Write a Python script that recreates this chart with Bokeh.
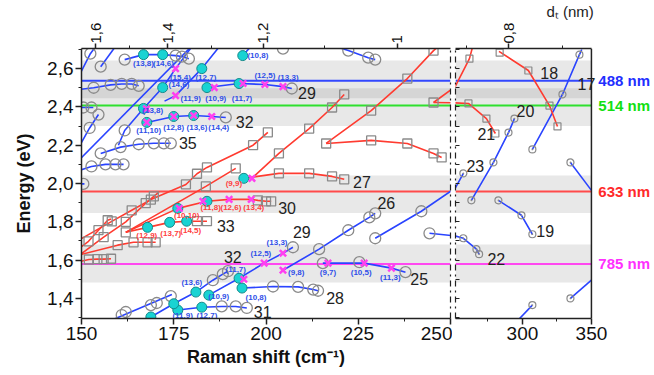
import math
from bokeh.plotting import figure
from bokeh.models import Range1d, LinearAxis, FixedTicker, BoxAnnotation, Span
from bokeh.layouts import row
from bokeh.embed import file_html
from bokeh.resources import INLINE
from bokeh.core.properties import value

FONT = "Liberation Sans"

# ---------------- axes / ticks ----------------
E_MIN, E_MAX = 1.295, 2.705
W_BREAK_LEFT = 250
W_RIGHT_START, W_RIGHT_END = 251.5, 350
x_ticks_left = [150, 175, 200, 225, 250]
x_minor_left = [162.5, 187.5, 212.5, 237.5]
x_ticks_right = [300, 350]
x_minor_right = [275, 325]
y_ticks = [1.4, 1.6, 1.8, 2.0, 2.2, 2.4, 2.6]
y_tick_labels = ["1,4", "1,6", "1,8", "2,0", "2,2", "2,4", "2,6"]
y_minor = [1.3, 1.5, 1.7, 1.9, 2.1, 2.3, 2.5, 2.7]
dt_ticks = [1.6, 1.4, 1.2, 1.0, 0.8]
dt_labels = ["1,6", "1,4", "1,2", "1", "0,8"]
dt_minor = [1.5, 1.3, 1.1, 0.9, 0.7]

# ---------------- laser lines and resonance windows ----------------
laser_names = ["488 nm", "514 nm", "633 nm", "785 nm"]
laser_E = [2.537, 2.407, 1.958, 1.580]
laser_line_colors = ["#3348ff", "#2fe02f", "#ff4a4a", "#ff48f0"]
laser_text_colors = ["#1f2fff", "#12e012", "#ff2a2a", "#ff30ff"]
band_lo = [2.445, 2.300, 1.846, 1.483]
band_hi = [2.642, 2.497, 2.042, 1.681]

# ---------------- family curves (Raman shift cm-1, energy eV) ----------------
blue_lines = [
    ([148.5, 152.4, 155.5], [2.53, 2.678, 2.76]),
    ([155.2, 160.5], [2.61, 2.75]),
    ([161.7, 166.8, 172.0, 175.5, 177.2, 179.1], [2.647, 2.673, 2.673, 2.668, 2.663, 2.652]),
    ([149.0, 153.3, 157.9, 160.9, 163.6, 165.5], [2.49, 2.50, 2.515, 2.52, 2.52, 2.51]),
    ([149.5, 153.2], [2.397, 2.397]),
    ([149.0, 152.2, 154.6], [2.18, 2.29, 2.36]),
    ([155.2, 160.6, 165.5, 169.6, 172.3, 174.2], [2.157, 2.19, 2.205, 2.21, 2.21, 2.21]),
    ([149.0, 152.7, 156.5, 159.2, 161.4], [2.066, 2.089, 2.10, 2.10, 2.10]),
    ([149.5, 150.8], [1.998, 1.998]),
    ([160.0, 161.7, 166.8, 172.0, 175.5, 180.5], [2.20, 2.277, 2.392, 2.501, 2.60, 2.73]),
    ([148.0, 180.0], [2.096, 2.72]),
    ([172.5, 175.5, 182.6, 188.0], [2.43, 2.459, 2.60, 2.73]),
    ([193.7, 197.5], [2.668, 2.75]),
    ([184.0, 192.7, 199.7, 204.6, 207.0], [2.501, 2.522, 2.517, 2.506, 2.496]),
    ([167.7, 175.0, 180.4, 185.3, 189.1], [2.319, 2.35, 2.355, 2.35, 2.345]),
    ([215.0, 222.3, 227.7, 229.6], [2.74, 2.694, 2.657, 2.647]),
    ([193.5, 201.9, 208.7, 212.8, 214.1], [1.454, 1.462, 1.46, 1.446, 1.44]),
    ([176.1, 182.6, 188.0, 191.8, 194.8], [1.339, 1.354, 1.358, 1.358, 1.35]),
    ([165.0, 168.8, 175.0, 181.0, 185.6, 188.3, 189.7], [1.27, 1.303, 1.372, 1.433, 1.495, 1.527, 1.542]),
    ([184.5, 192.7, 199.5, 204.6, 207.3], [1.417, 1.505, 1.584, 1.636, 1.667]),
    ([158.0, 174.5], [1.285, 1.42]),
    ([215.4, 226.6, 234.0, 237.8], [1.584, 1.584, 1.558, 1.537]),
    ([204.6, 214.4, 222.3, 228.0, 229.6], [1.547, 1.657, 1.756, 1.823, 1.844]),
    ([229.6, 242.1, 257.2], [1.714, 1.855, 2.053]),
    ([244.3, 257.2, 266.7, 268.6], [1.74, 1.714, 1.657, 1.631]),
    ([263.0, 279.0, 289.9, 294.2], [1.912, 2.11, 2.266, 2.339]),
    ([307.2, 329.0, 341.3, 343.0], [2.178, 2.465, 2.673, 2.70]),
    ([282.6, 299.3, 307.2], [1.912, 1.834, 1.735]),
    ([334.8, 350.0], [2.11, 1.964]),
    ([334.8, 350.0], [1.40, 1.495]),
    ([296.0, 307.2], [1.28, 1.365]),
]

red_lines = [
    ([162.0, 167.9, 173.9, 178.5, 181.3, 184.0], [1.745, 1.771, 1.797, 1.803, 1.803, 1.803]),
    ([162.0, 176.1], [1.745, 1.870]),
    ([176.1, 184.0, 190.0, 196.0, 197.8, 200.0, 201.4], [1.870, 1.907, 1.917, 1.917, 1.912, 1.907, 1.907]),
    ([162.0, 183.7, 191.8], [1.745, 1.985, 2.079]),
    ([148.0, 158.2, 163.6, 168.8, 178.3, 181.3, 184.0, 196.5, 200.5], [1.69, 1.802, 1.86, 1.916, 1.995, 2.051, 2.084, 2.20, 2.267]),
    ([196.2, 203.5, 211.7, 217.9, 221.2], [2.027, 2.157, 2.287, 2.397, 2.465]),
    ([194.0, 203.5, 211.7, 217.9, 221.2], [2.027, 2.053, 2.053, 2.037, 2.022]),
    ([216.3, 228.5, 238.3, 245.4, 247.0], [2.209, 2.381, 2.548, 2.694, 2.72]),
    ([216.3, 228.5, 238.3, 245.4, 247.6], [2.209, 2.225, 2.209, 2.157, 2.136]),
    ([245.4, 260.9, 273.9, 280.4], [2.423, 2.418, 2.339, 2.261]),
    ([245.4, 261.6, 264.5], [2.423, 2.652, 2.73]),
    ([283.0, 304.3, 319.6, 325.4], [2.69, 2.59, 2.407, 2.298]),
    ([149.0, 151.9, 154.6, 157.1, 158.0], [1.655, 1.698, 1.756, 1.808, 1.815]),
    ([149.0, 156.0, 162.0, 167.4, 169.6, 171.0], [1.62, 1.72, 1.80, 1.897, 1.933, 1.955]),
    ([149.0, 152.0, 154.3, 156.0, 158.0], [1.59, 1.603, 1.605, 1.605, 1.607]),
    ([149.0, 159.8, 164.1, 167.9, 170.1], [1.625, 1.678, 1.693, 1.693, 1.693]),
]

# ---------------- experimental points ----------------
open_circles = [
    (152.4, 2.678), (155.2, 2.61), (161.7, 2.647), (175.5, 2.668), (177.2, 2.663), (179.1, 2.652),
    (153.3, 2.50), (157.9, 2.515), (160.9, 2.52), (163.6, 2.52), (165.5, 2.51),
    (150.5, 2.397), (152.7, 2.397), (152.2, 2.29), (154.6, 2.36),
    (155.2, 2.157), (160.6, 2.19), (165.5, 2.205), (169.6, 2.21), (172.3, 2.21), (174.2, 2.21),
    (152.7, 2.089), (156.5, 2.10), (159.2, 2.10), (161.4, 2.10), (150.5, 1.998), (161.7, 2.277),
    (207.0, 2.496), (189.1, 2.345), (204.6, 2.704), (222.3, 2.694), (227.7, 2.657), (229.6, 2.647),
    (201.9, 1.462), (208.7, 1.46), (212.8, 1.446), (214.1, 1.44),
    (188.0, 1.358), (191.8, 1.358), (194.8, 1.35),
    (185.6, 1.495), (188.3, 1.527), (189.7, 1.542), (207.3, 1.667),
    (160.9, 1.313), (162.0, 1.329), (168.8, 1.365), (170.4, 1.376), (174.2, 1.412),
    (215.4, 1.584), (225.3, 1.589), (237.8, 1.537),
    (214.4, 1.657), (222.3, 1.756), (228.0, 1.823), (229.6, 1.844),
    (229.6, 1.714), (242.1, 1.855), (244.3, 1.74),
]
open_circles_right = [
    (257.2, 2.053), (263.0, 1.912), (279.0, 2.11), (289.9, 2.266), (294.2, 2.339),
    (307.2, 2.178), (329.0, 2.465), (341.3, 2.673), (282.6, 1.912), (299.3, 1.834), (307.2, 1.735),
    (334.8, 2.11), (257.2, 1.714), (266.7, 1.657), (268.6, 1.631), (334.8, 1.40), (307.2, 1.365),
]
open_squares = [
    (151.9, 1.698), (154.6, 1.756), (157.1, 1.808), (156.0, 1.72), (162.0, 1.80), (167.4, 1.897), (169.6, 1.933),
    (152.0, 1.603), (154.3, 1.605), (156.0, 1.605), (158.0, 1.607),
    (159.8, 1.678), (164.1, 1.693), (167.9, 1.693), (170.1, 1.693), (162.0, 1.745),
    (181.3, 1.803), (184.0, 1.803), (197.8, 1.912), (200.0, 1.907), (201.4, 1.907),
    (158.2, 1.802), (163.6, 1.86), (168.8, 1.916), (178.3, 1.995), (181.3, 2.051), (184.0, 2.084),
    (196.5, 2.20), (200.5, 2.267), (183.7, 1.985), (191.8, 2.079),
    (203.5, 2.157), (211.7, 2.287), (217.9, 2.397), (221.2, 2.465),
    (203.5, 2.053), (211.7, 2.053), (217.9, 2.037), (221.2, 2.022),
    (216.3, 2.209), (228.5, 2.381), (238.3, 2.548), (245.4, 2.694),
    (228.5, 2.225), (238.3, 2.209), (245.4, 2.157), (247.6, 2.136), (245.4, 2.423),
]
open_squares_right = [
    (260.9, 2.418), (273.9, 2.339), (280.4, 2.261), (261.6, 2.652),
    (283.5, 2.683), (304.3, 2.59), (319.6, 2.407), (325.4, 2.298),
]
cyan_points = [
    (166.8, 2.673), (172.0, 2.673), (172.0, 2.501), (182.6, 2.60), (193.7, 2.668), (184.0, 2.501),
    (192.7, 2.522), (166.8, 2.392), (167.7, 2.319), (175.0, 2.35), (180.4, 2.355),
    (194.0, 2.027), (176.1, 1.870), (184.0, 1.907), (167.9, 1.771), (173.9, 1.797), (178.5, 1.803),
    (193.5, 1.454), (176.1, 1.339), (182.6, 1.354), (168.8, 1.303), (175.0, 1.372), (181.0, 1.433),
    (184.5, 1.417), (192.7, 1.505),
]
cross_points = [
    (175.5, 2.60), (175.5, 2.459), (186.0, 2.501), (193.8, 2.522), (199.7, 2.517), (204.6, 2.506),
    (167.6, 2.39), (167.7, 2.319), (175.0, 2.35), (180.4, 2.355), (185.3, 2.35),
    (196.2, 2.027), (176.5, 1.87), (182.9, 1.907), (190.0, 1.917), (196.0, 1.917),
    (194.0, 1.50), (199.5, 1.584), (204.6, 1.636), (204.6, 1.547), (216.8, 1.584), (226.6, 1.584), (234.0, 1.558),
]

# ---------------- (n,m) labels and family numbers ----------------
nm_blue = [
    ("(13,8)", 166.8, 2.626), ("(14,6)", 172.2, 2.626), ("(15,4)", 176.8, 2.555), ("(12,7)", 183.7, 2.555),
    ("(10,8)", 197.8, 2.668), ("(14,6)", 176.4, 2.517), ("(11,9)", 179.6, 2.443), ("(10,9)", 186.4, 2.443),
    ("(11,7)", 193.5, 2.443), ("(12,5)", 199.7, 2.564), ("(13,3)", 206.0, 2.553), ("(13,8)", 169.3, 2.381),
    ("(11,10)", 168.2, 2.277), ("(12,8)", 175.0, 2.293), ("(13,6)", 181.3, 2.293), ("(14,4)", 187.2, 2.293),
    ("(13,6)", 179.9, 1.485), ("(11,7)", 191.8, 1.553), ("(12,5)", 198.6, 1.636), ("(13,3)", 203.0, 1.693),
    ("(9,8)", 208.2, 1.537), ("(9,7)", 216.8, 1.537), ("(10,5)", 225.8, 1.537), ("(11,3)", 233.7, 1.511),
    ("(10,9)", 187.2, 1.412), ("(10,8)", 197.3, 1.405), ("(11,9)", 177.4, 1.313), ("(12,7)", 184.0, 1.313),
]
nm_red = [
    ("(9,9)", 191.3, 2.0), ("(10,10)", 178.5, 1.834), ("(11,8)", 185.0, 1.876), ("(12,6)", 190.5, 1.876),
    ("(13,4)", 196.7, 1.876), ("(12,9)", 167.7, 1.73), ("(13,7)", 174.2, 1.74), ("(14,5)", 179.6, 1.756),
]
family_left = [
    ("29", 208.7, 2.475), ("32", 191.8, 2.319), ("35", 176.4, 2.209), ("33", 186.7, 1.777),
    ("30", 203.3, 1.87), ("27", 223.6, 2.006), ("26", 230.2, 1.897), ("29", 207.3, 1.746),
    ("32", 188.6, 1.615), ("31", 196.7, 1.329), ("28", 216.3, 1.401), ("25", 239.1, 1.50),
]
family_right = [
    ("18", 313.0, 2.579), ("17", 339.9, 2.522), ("20", 295.7, 2.381), ("21", 267.4, 2.261),
    ("23", 259.4, 2.094), ("19", 310.1, 1.751), ("22", 274.6, 1.605),
]
laser_label_w = 355.0


# diameter -> Raman shift (Kataura relation) for the top axis
def rbm(dt):
    return round(218.0 / dt + 17.6, 2)


BLUE = "#2a44ff"
RED = "#ff3b30"
GRAY = "#8a8a8a"


def style_axis(ax, size="19px"):
    ax.axis_line_width = 1.5
    ax.axis_line_color = "#222222"
    ax.major_tick_line_color = "#222222"
    ax.minor_tick_line_color = "#222222"
    ax.major_tick_line_width = 1.5
    ax.major_tick_out = 6
    ax.major_tick_in = 0
    ax.minor_tick_out = 3
    ax.minor_tick_in = 0
    ax.major_label_text_font = FONT
    ax.major_label_text_font_size = size
    ax.major_label_text_color = "#111111"
    ax.major_label_standoff = 2
    ax.axis_label_text_font = FONT
    ax.axis_label_text_font_style = "bold"
    ax.axis_label_text_font_size = "18px"
    ax.axis_label_text_color = "#111111"


def bare_axis(ax, dash=None):
    ax.axis_line_width = 1.2
    ax.axis_line_color = "#222222"
    if dash:
        ax.axis_line_dash = dash
    ax.major_tick_out = 0
    ax.major_tick_in = 0
    ax.minor_tick_out = 0
    ax.major_label_standoff = 0


def unzip(pts):
    return [p[0] for p in pts], [p[1] for p in pts]


def base(p, band_right=None):
    p.xgrid.visible = False
    p.ygrid.visible = False
    p.outline_line_color = None
    p.background_fill_color = "white"
    p.border_fill_color = "white"
    for lo, hi in zip(band_lo, band_hi):
        p.add_layout(BoxAnnotation(bottom=lo, top=hi, right=band_right, fill_color="#808080",
                                   fill_alpha=0.18, line_color=None, level="underlay"))


def families(p):
    p.multi_line([l[0] for l in blue_lines], [l[1] for l in blue_lines], line_color=BLUE, line_width=1.6)
    p.multi_line([l[0] for l in red_lines], [l[1] for l in red_lines], line_color=RED, line_width=1.6)


def top_axis_style(ax):
    style_axis(ax, "15px")
    ax.major_label_orientation = math.pi / 2
    ax.major_tick_out = 5
    ax.minor_tick_out = 3
    ax.major_label_standoff = 0


# ---------------- left panel ----------------
p1 = figure(width=452, height=375, x_range=Range1d(150, W_BREAK_LEFT), y_range=Range1d(E_MIN, E_MAX),
            output_backend="svg", toolbar_location=None,
            min_border_left=81, min_border_right=2, min_border_top=46, min_border_bottom=57)
base(p1)
for e, c in zip(laser_E, laser_line_colors):
    p1.add_layout(Span(location=e, dimension="width", line_color=c, line_width=2, level="underlay"))
families(p1)

cw, ce = unzip(open_circles)
p1.scatter(cw, ce, marker="circle", size=11, fill_color=None, line_color=GRAY, line_width=1.3)
sw, se = unzip(open_squares)
p1.scatter(sw, se, marker="square", size=9, fill_color=None, line_color=GRAY, line_width=1.3)
yw, ye = unzip(cyan_points)
p1.scatter(yw, ye, marker="circle", size=10, fill_color="#19d3d3", line_color="#148a8a", line_width=1)
xw, xe = unzip(cross_points)
p1.scatter(xw, xe, marker="x", size=9, line_color="#ff40f0", line_width=2.5)

p1.text([t[1] for t in nm_blue], [t[2] for t in nm_blue], text=[t[0] for t in nm_blue],
        text_font=value(FONT), text_font_size="8px", text_font_style="bold", text_color="#2f4fe8",
        text_align="center", text_baseline="middle")
p1.text([t[1] for t in nm_red], [t[2] for t in nm_red], text=[t[0] for t in nm_red],
        text_font=value(FONT), text_font_size="8px", text_font_style="bold", text_color="#ff4040",
        text_align="center", text_baseline="middle")
p1.text([t[1] for t in family_left], [t[2] for t in family_left], text=[t[0] for t in family_left],
        text_font=value(FONT), text_font_size="16px", text_color="#222222",
        text_align="left", text_baseline="middle")

xb = p1.xaxis[0]
style_axis(xb)
xb.ticker = FixedTicker(ticks=x_ticks_left, minor_ticks=x_minor_left)
xb.axis_label = "Raman shift (cm\u207b\u00b9)"
xb.axis_label_standoff = 4

yl = p1.yaxis[0]
style_axis(yl)
yl.ticker = FixedTicker(ticks=y_ticks, minor_ticks=y_minor)
yl.major_label_overrides = dict(zip(y_ticks, y_tick_labels))
yl.axis_label = "Energy (eV)"
yl.axis_label_standoff = 10

top_pos_left = [rbm(d) for d in dt_ticks[:4]]
top1 = LinearAxis(ticker=FixedTicker(ticks=top_pos_left, minor_ticks=[rbm(d) for d in dt_minor[:3]]),
                  major_label_overrides=dict(zip(top_pos_left, dt_labels[:4])))
top_axis_style(top1)
p1.add_layout(top1, "above")

r1 = LinearAxis(ticker=FixedTicker(ticks=[]))
bare_axis(r1, "dashdot")
p1.add_layout(r1, "right")

# ---------------- right panel (frame also holds the laser names) ----------------
PX_PER_CM = 1.38
right_frame_px = 199
p2 = figure(width=202, height=375,
            x_range=Range1d(W_RIGHT_START, W_RIGHT_START + right_frame_px / PX_PER_CM),
            y_range=p1.y_range, output_backend="svg", toolbar_location=None,
            min_border_left=3, min_border_right=0, min_border_top=46, min_border_bottom=57)
base(p2, band_right=W_RIGHT_END)
p2.segment(x0=[W_RIGHT_START] * len(laser_E), x1=[W_RIGHT_END] * len(laser_E), y0=laser_E, y1=laser_E,
           line_color=laser_line_colors, line_width=2)
p2.add_layout(Span(location=W_RIGHT_END, dimension="height", line_color="#222222", line_width=1.5))
families(p2)

rw, re_ = unzip(open_circles_right)
p2.scatter(rw, re_, marker="circle_dot", size=7, fill_color=None, line_color=GRAY, line_width=1.2)
qw, qe = unzip(open_squares_right)
p2.scatter(qw, qe, marker="square", size=7, fill_color=None, line_color=GRAY, line_width=1.2)
p2.text([t[1] for t in family_right], [t[2] for t in family_right], text=[t[0] for t in family_right],
        text_font=value(FONT), text_font_size="16px", text_color="#222222",
        text_align="left", text_baseline="middle")
p2.text([laser_label_w] * len(laser_E), laser_E, text=laser_names, text_color=laser_text_colors,
        text_font=value(FONT), text_font_size="15px", text_font_style="bold",
        text_align="left", text_baseline="middle")

xb2 = p2.xaxis[0]
style_axis(xb2)
xb2.ticker = FixedTicker(ticks=x_ticks_right, minor_ticks=x_minor_right)
xb2.bounds = (W_RIGHT_START, W_RIGHT_END)

yl2 = p2.yaxis[0]
bare_axis(yl2, "dashdot")
yl2.ticker = FixedTicker(ticks=[], minor_ticks=y_ticks + y_minor)
yl2.minor_tick_in = 4
yl2.minor_tick_line_color = "#222222"
yl2.minor_tick_line_width = 1.2

top_pos_right = [rbm(dt_ticks[4])]
top2 = LinearAxis(ticker=FixedTicker(ticks=top_pos_right, minor_ticks=[rbm(d) for d in dt_minor[3:]]),
                  major_label_overrides=dict(zip(top_pos_right, dt_labels[4:])),
                  bounds=(W_RIGHT_START, W_RIGHT_END))
top_axis_style(top2)
p2.add_layout(top2, "above")

p2.title.text = "d\u209c (nm)"
p2.title.align = "left"
p2.title.offset = 91
p2.title.standoff = 0
p2.title.text_font = FONT
p2.title.text_font_size = "15px"
p2.title.text_font_style = "normal"
p2.title.text_color = "#222222"

layout = row(p1, p2)
open("out.html", "w").write(file_html(layout, INLINE))
